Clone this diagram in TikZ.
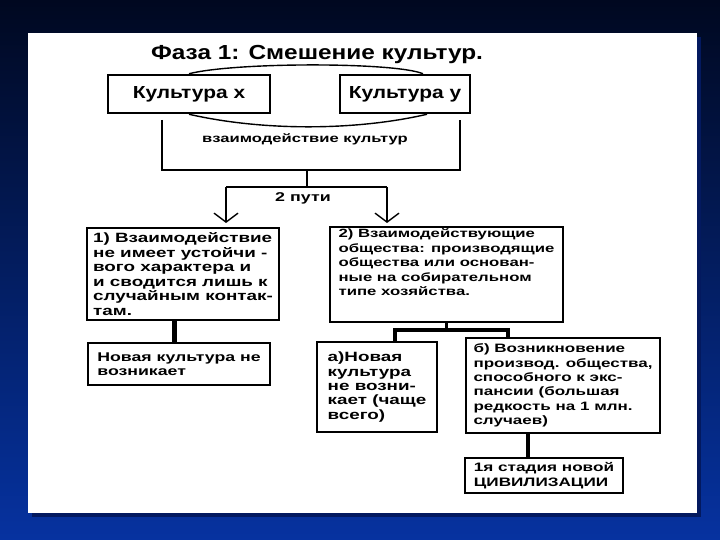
\documentclass[tikz,border=0pt]{standalone}
\usepackage{fontspec}
\setmainfont{Liberation Sans}[FakeStretch=1.4]
\newfontfamily\headfont{Liberation Sans}[FakeStretch=1.2]
\usetikzlibrary{arrows.meta,calc}
\definecolor{slidetop}{RGB}{0,8,32}
\definecolor{slidebottom}{RGB}{6,50,160}
\definecolor{slideshadow}{RGB}{3,25,95}

\begin{document}
\begin{tikzpicture}[x=1bp, y=-1bp,
    headbox/.style={draw, line width=2.5bp, inner sep=0pt, font=\headfont\bfseries\fontsize{17.5}{19}\selectfont},
    textbox/.style={draw, line width=2.8bp, inner sep=0pt, align=left, font=\bfseries\fontsize{#1}{14.5}\selectfont},
    textbox/.default=13.5,
    plain/.style={font=\bfseries\fontsize{#1}{14.5}\selectfont},
    thinline/.style={line width=1.4bp},
    joinline/.style={line width=3.5bp},
    way/.style={thinline, -{Straight Barb[length=9bp, width=24bp]}}]
    \useasboundingbox (0,0) rectangle (720,540);

    % slide background
    \shade[top color=slidetop, bottom color=slidebottom] (0,0) rectangle (720,540);
    \fill[slideshadow] (32,37) rectangle (701,517);
    \fill[white] (28,33) rectangle (697,513);

    % title and the two cultures
    \node[font=\headfont\bfseries\fontsize{20.4}{22}\selectfont] (title) at (317,55) {Фаза 1: Смешение культур.};
    \node[headbox, minimum width=162bp, minimum height=38bp] (kultx) at (189,94) {Культура х};
    \node[headbox, minimum width=130bp, minimum height=38bp] (kulty) at (405,94) {Культура у};
    \draw[thinline] (kultx.north) .. controls (235,62) and (395,62) .. ([xshift=18bp]kulty.north);
    \draw[thinline] (kultx.south) .. controls (262,131) and (355,131) .. ([xshift=22bp]kulty.south);

    % interaction bracket
    \coordinate (brl) at (162,120);
    \coordinate (brr) at (460,120);
    \coordinate (brm) at (307,170);
    \draw[thinline] (brl) |- (brr |- brm) -- (brr);
    \node[plain=11.9] (vzaim) at (305,139) {взаимодействие культур};

    % two ways
    \coordinate (fork) at (307,187);
    \coordinate (wayl) at (226,187);
    \coordinate (wayr) at (387,187);
    \draw[thinline] (brm) -- (fork);
    \draw[thinline] (wayl) -- (wayr);
    \draw[way] (wayl) -- ++(0,36);
    \draw[way] (wayr) -- ++(0,36);
    \node[plain=12.8] (twoways) at (303,198) {2 пути};

    % first way
    \node[textbox, minimum width=192bp, minimum height=92bp] (way1) at (183,274) {1) Взаимодействие\\не имеет устойчи -\\вого характера и\\и сводится лишь к\\случайным контак-\\там.};
    \node[textbox=12.7, minimum width=182bp, minimum height=42bp] (nonew) at (179,364) {Новая культура не\\возникает};
    \coordinate (c1) at ([xshift=-9bp]way1.south);
    \draw[line width=5bp] (c1) -- (c1 |- nonew.north);

    % second way
    \node[textbox=12, minimum width=233bp, minimum height=95bp] (way2) at (446.5,274.5) {2) Взаимодействующие\\общества: производящие\\общества или основан-\\ные на собирательном\\типе хозяйства.\\[6bp]\strut};
    \node[textbox, minimum width=120bp, minimum height=90bp] (waya) at (377,387) {а)Новая\\культура\\не возни-\\кает (чаще\\всего)};
    \node[textbox=12.2, minimum width=194bp, minimum height=95bp] (wayb) at (563,385.5) {б) Возникновение\\производ. общества,\\способного к экс-\\пансии (большая\\редкость на 1 млн.\\случаев)};
    \node[textbox=12.3, line width=2.5bp, minimum width=158bp, minimum height=35bp] (stage) at (544,475.5) {1я стадия новой\\ЦИВИЛИЗАЦИИ};
    \coordinate (fork2) at (way2.south |- 0,330);
    \coordinate (pa) at (395,330);
    \coordinate (pb) at (508,330);
    \coordinate (pc) at (528,0);
    \draw[joinline] (way2.south) -- (fork2);
    \draw[joinline] (pa |- waya.north) -- (pa) -- (pb) -- (pb |- wayb.north);
    \draw[joinline] (pc |- wayb.south) -- (pc |- stage.north);
\end{tikzpicture}
\end{document}
